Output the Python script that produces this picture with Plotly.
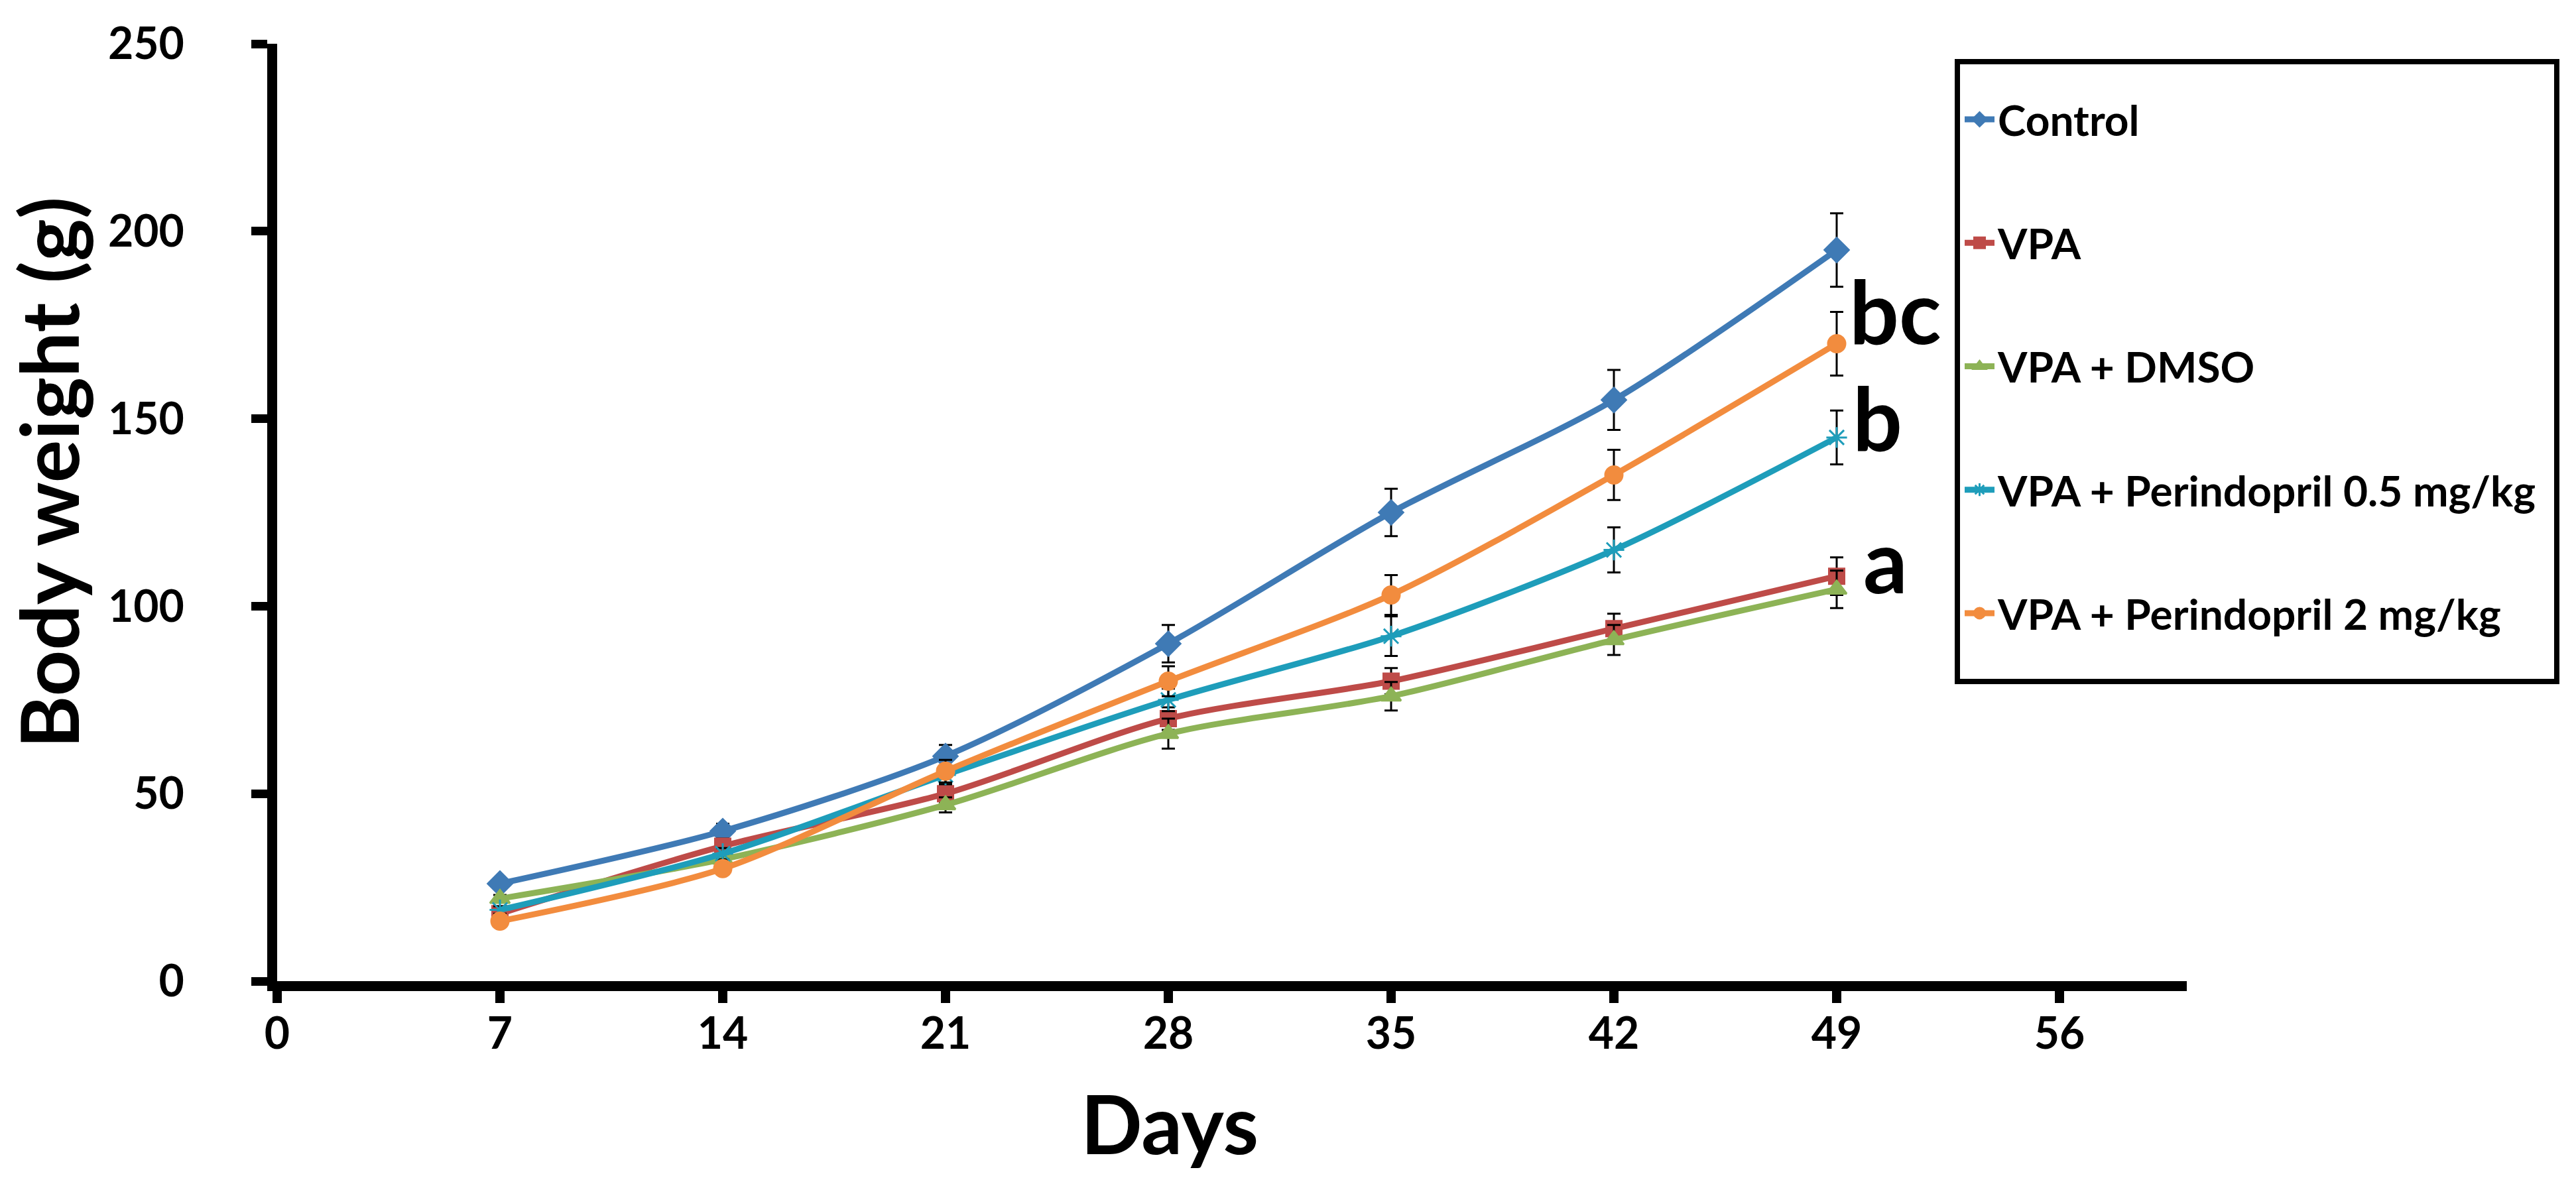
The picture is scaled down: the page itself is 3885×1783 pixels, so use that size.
import plotly.graph_objects as go

days = [7, 14, 21, 28, 35, 42, 49]

series_names = ["Control", "VPA", "VPA + DMSO", "VPA + Perindopril 0.5 mg/kg", "VPA + Perindopril 2 mg/kg"]

control = [26, 40, 60, 90, 125, 155, 195]
control_err = [1.2, 2, 3, 5, 6.3, 8, 9.8]

vpa = [18, 36, 50, 70, 80, 94, 108]
vpa_err = [1, 2, 2.5, 3, 3.5, 4, 5]

vpa_dmso = [22, 32.5, 47, 66, 76, 91, 104.5]
vpa_dmso_err = [1, 1.5, 2, 4, 3.8, 4, 5]

per05 = [19, 34, 55, 75, 92, 115, 145]
per05_err = [1, 1.5, 2.5, 3, 5.3, 6, 7.2]

per2 = [16, 30, 56, 80, 103, 135, 170]
per2_err = [1, 1.5, 3, 4, 5.3, 6.7, 8.5]

x_ticks = [0, 7, 14, 21, 28, 35, 42, 49, 56]
y_ticks = [0, 50, 100, 150, 200, 250]

sig_labels = ["bc", "b", "a"]
sig_x = [49.35, 49.45, 49.8]
sig_y = [179, 150.5, 112.5]

colors = ["#3F7AB5", "#BE4B48", "#8DB356", "#1E9DBA", "#F28C3E"]
symbols = ["diamond", "square", "triangle-up", "asterisk-open", "circle"]
msizes = [28, 23, 26, 26, 26]

all_vals = [control, vpa, vpa_dmso, per05, per2]
all_errs = [control_err, vpa_err, vpa_dmso_err, per05_err, per2_err]

W, H = 3885, 1783
L, R, T, B = 410, 595, 58, 311
pw, ph = W - L - R, H - T - B


def px2paper_x(px):
    return (px - L) / pw


def px2paper_y(py):
    return (H - B - py) / ph


fig = go.Figure()
for i, name in enumerate(series_names):
    fig.add_trace(go.Scatter(
        x=days, y=all_vals[i], name=name, mode="lines+markers",
        line=dict(color=colors[i], width=9, shape="spline", smoothing=0.8),
        marker=dict(symbol=symbols[i], size=msizes[i], color=colors[i],
                    line=dict(color=colors[i], width=3)),
        error_y=dict(type="data", array=all_errs[i], visible=True,
                     color="black", thickness=3, width=10),
        legendgroup=name,
    ))

for lab, xv, yv in zip(sig_labels, sig_x, sig_y):
    fig.add_annotation(x=xv, y=yv, xref="x", yref="y", text=lab, showarrow=False,
                       xanchor="left", yanchor="middle",
                       font=dict(family="Lato", size=132, color="black", weight="bold"))

fig.add_annotation(x=px2paper_x(1756), y=px2paper_y(1611), xref="paper", yref="paper",
                   text="Days", showarrow=False, xanchor="center", yanchor="top",
                   font=dict(family="Lato", size=122, color="black", weight="bold"))
fig.add_annotation(x=px2paper_x(64), y=px2paper_y(705), xref="paper", yref="paper",
                   text="Body weight (g)", showarrow=False, textangle=-90,
                   xanchor="center", yanchor="middle",
                   font=dict(family="Lato", size=121, color="black", weight="bold"))

fig.add_shape(type="rect", xref="paper", yref="paper",
              x0=px2paper_x(2944), x1=px2paper_x(3848),
              y0=px2paper_y(1020), y1=px2paper_y(85),
              line=dict(color="black", width=8), fillcolor="rgba(0,0,0,0)")

fig.update_layout(
    width=W, height=H,
    margin=dict(l=L, r=R, t=T, b=B),
    paper_bgcolor="white", plot_bgcolor="white",
    showlegend=True,
    legend=dict(x=px2paper_x(2950), y=px2paper_y(124), xanchor="left", yanchor="top",
                font=dict(family="Lato", size=64, color="black", weight="bold"),
                bgcolor="rgba(0,0,0,0)", borderwidth=0, tracegroupgap=100,
                traceorder="grouped", itemwidth=45),
    font=dict(family="Lato", color="black"),
)

fig.update_xaxes(range=[0, 60], tickvals=x_ticks, ticktext=[str(v) for v in x_ticks],
                 showgrid=False, zeroline=False, showline=True, linecolor="black", linewidth=15,
                 ticks="outside", ticklen=18, tickwidth=14, tickcolor="black",
                 ticklabelstandoff=-10,
                 tickfont=dict(family="Lato", size=66, color="black", weight="bold"))
fig.update_yaxes(range=[0, 250], tickvals=y_ticks, ticktext=[str(v) for v in y_ticks],
                 showgrid=False, zeroline=False, showline=True, linecolor="black", linewidth=15,
                 ticks="outside", ticklen=24, tickwidth=13, tickcolor="black",
                 ticklabelstandoff=88,
                 tickfont=dict(family="Lato", size=66, color="black", weight="bold"))

fig.write_html("out.html")
